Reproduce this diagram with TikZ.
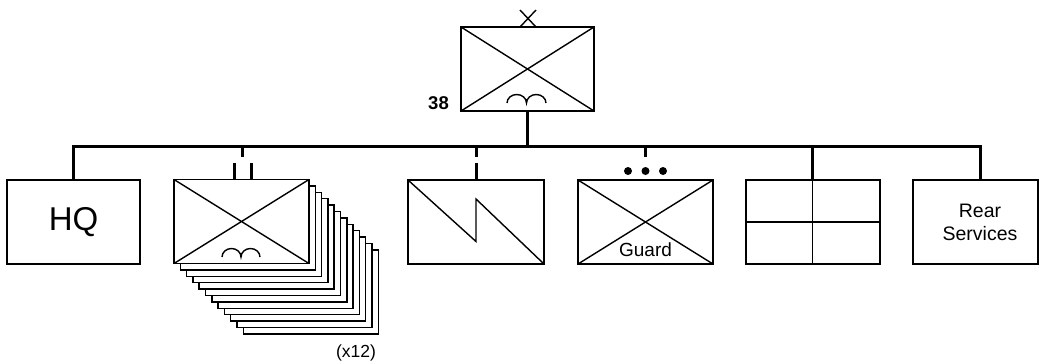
\documentclass[tikz,border=0pt]{standalone}
\usepackage{fontspec}
\setmainfont{Liberation Sans}
\begin{document}
\begin{tikzpicture}[x=1pt,y=-1pt,
  unit/.style={draw, line width=1.7pt, minimum width=135pt, minimum height=84pt, inner sep=0pt, outer sep=0pt, fill=white},
  stackbox/.style={draw, line width=1.5pt, minimum width=135pt, minimum height=84pt, inner sep=0pt, outer sep=0pt, fill=white},
  diag/.style={line width=1.4pt},
  bus/.style={line width=3pt},
  lbl/.style={inner sep=0pt, outer sep=0pt}]
\useasboundingbox (0,0) rectangle (1039,362);

% top unit
\node[unit, minimum width=133pt] (top) at (527.5,69) {};
\draw[diag] (top.north west) -- (top.south east) (top.north east) -- (top.south west);
\draw[diag] (507,103) arc (180:360:9.75 and 8.5) arc (180:360:9.75 and 8.5);
\coordinate (xa) at (520,10); \coordinate (xb) at (536,27);
\coordinate (xc) at (536,10); \coordinate (xd) at (520,27);
\draw[diag] (xa) -- (xb) (xc) -- (xd);
\node[lbl, font=\fontsize{18.5}{22}\selectfont\bfseries] (num) at (438.5,103.5) {38};

% subordinate boxes
\node[unit, minimum width=133pt] (hq) at (73.5,222) {\fontsize{33}{38}\selectfont HQ};

\foreach \i in {11,10,...,1} {
  \node[stackbox] (stack\i) at ({241.5+6.3*\i},{221.5+6.4*\i}) {};
}
\node[unit] (inf) at (241.5,221.5) {};
\draw[diag] (inf.north west) -- (inf.south east) (inf.north east) -- (inf.south west);
\draw[diag] (222,257) arc (180:360:9.5 and 8.5) arc (180:360:9.5 and 8.5);
\node[lbl, font=\fontsize{17.5}{21}\selectfont] (count) at (356,353) {(x12)};

\node[unit, minimum width=136pt] (sig) at (476,222) {};
\coordinate (z1) at (476,241.5); \coordinate (z2) at (476,199);
\draw[diag] (sig.north west) -- (z1) -- (z2) -- (sig.south east);

\node[unit] (guard) at (645.5,222) {};
\draw[diag] (guard.north west) -- (guard.south east) (guard.north east) -- (guard.south west);
\node[lbl, fill=white, inner sep=1pt, font=\fontsize{19}{22}\selectfont] (gtext) at (645.5,250) {Guard};

\node[unit, minimum width=134pt] (grid) at (812.7,222) {};
\draw[diag] (grid.west) -- (grid.east) (grid.north) -- (grid.south);

\node[unit, minimum width=125pt] (rear) at (975.5,222) {};
\node[lbl, align=center, font=\fontsize{19.5}{23}\selectfont] (reartext) at (980,222) {Rear\\Services};

% bus
\coordinate (busL) at (73.5,146);
\coordinate (busR) at (980,146);
\coordinate (rearin) at (980,180);
\draw[bus] (hq.north) -- (busL) -- (busR) -- (rearin);
\draw[bus] (top.south) -- (top.south |- busL);
\draw[bus] (grid.north) -- (grid.north |- busL);

% infantry: battalion marker
\coordinate (i0) at (242,146); \coordinate (i1) at (242,157);
\coordinate (ia) at (234,163); \coordinate (ib) at (234,179.5);
\coordinate (ic) at (251,163); \coordinate (id) at (251,179.5);
\draw[bus] (i0) -- (i1) (ia) -- (ib) (ic) -- (id);

% signals: company marker
\coordinate (s0) at (476,146); \coordinate (s1) at (476,157); \coordinate (s2) at (476,163);
\draw[bus] (s0) -- (s1) (s2) -- (sig.north);

% guard: platoon marker
\coordinate (g0) at (645.5,146); \coordinate (g1) at (645.5,157);
\draw[bus] (g0) -- (g1);
\foreach \dx in {-17.5,0,17.5} \fill ({645.5+\dx},171) circle (4);
\end{tikzpicture}
\end{document}
